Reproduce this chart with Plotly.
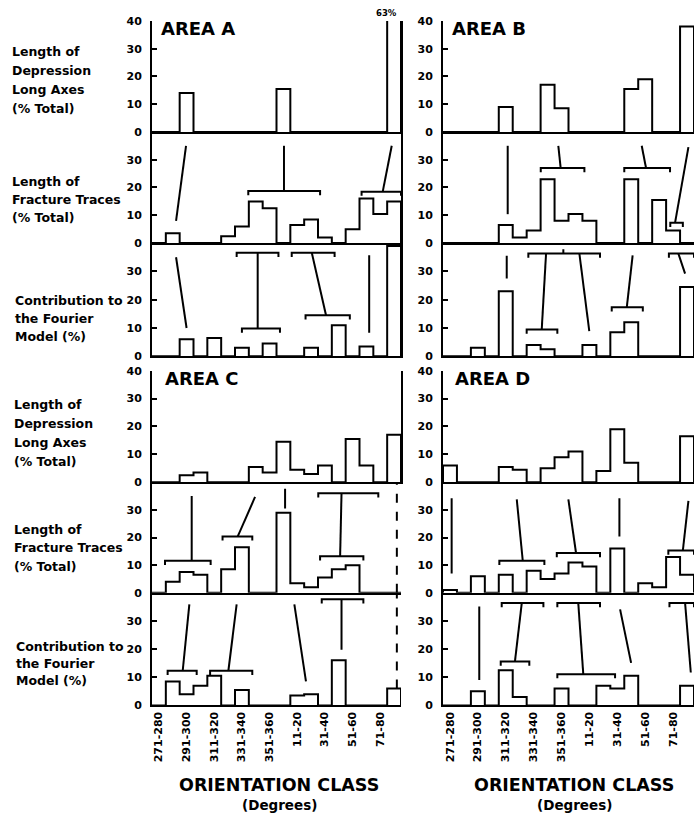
import plotly.graph_objects as go

# ---------------- data ----------------
classes = ["271-280", "281-290", "291-300", "301-310", "311-320", "321-330",
           "331-340", "341-350", "351-360", "1-10", "11-20", "21-30",
           "31-40", "41-50", "51-60", "61-70", "71-80", "81-90"]
tick_labels = classes[::2]
tick_pos = list(range(0, 18, 2))

A_dep = [0, 0, 14, 0, 0, 0, 0, 0, 0, 15.5, 0, 0, 0, 0, 0, 0, 0, 63]
A_frac = [0, 3.5, 0, 0, 0, 2.5, 6, 15, 12.5, 0, 6.5, 8.5, 2, 0, 5, 16, 10.5, 15]
A_four = [0, 0, 6, 0, 6.5, 0, 3, 0, 4.5, 0, 0, 3, 0, 11, 0, 3.5, 0, 39]

B_dep = [0, 0, 0, 0, 9, 0, 0, 17, 8.5, 0, 0, 0, 0, 15.5, 19, 0, 0, 38]
B_frac = [0, 0, 0, 0, 6.5, 2, 4.5, 23, 8, 10.5, 8, 0, 0, 23, 0, 15.5, 4.5, 0]
B_four = [0, 0, 3, 0, 23, 0, 4, 2.5, 0, 0, 4, 0, 8.5, 12, 0, 0, 0, 24.5]

C_dep = [0, 0, 2.5, 3.5, 0, 0, 0, 5.5, 3.5, 14.5, 4.5, 3, 6, 0, 15.5, 6, 0, 17]
C_frac = [0, 4, 7.5, 6.5, 0, 8.5, 16.5, 0, 0, 29, 3.5, 2, 5.5, 8.5, 10, 0, 0, 0]
C_four = [0, 8.5, 4, 7, 10.5, 0, 5.5, 0, 0, 0, 3.5, 4, 0, 16, 0, 0, 0, 6]

D_dep = [6, 0, 0, 0, 5.5, 4.5, 0, 5, 9, 11, 0, 4, 19, 7, 0, 0, 0, 16.5]
D_frac = [1, 0, 6, 0, 6.5, 0, 8, 5, 7, 11, 9.5, 0, 16, 0, 3.5, 2, 13, 6.5]
D_four = [0, 0, 5, 0, 12.5, 3, 0, 0, 6, 0, 0, 7, 6, 10.5, 0, 0, 0, 7]

# connector lines (x0, y0, x1, y1) and brackets (x0, x1, y) in class-index / percent units
A_frac_links = [(1.24, 8, 1.96, 35), (9.04, 18.7, 9.04, 35), (16.18, 18.5, 16.83, 35)]
A_frac_brackets = [(6.46, 11.65, 18.7), (14.65, 17.5, 18.5)]
A_four_links = [(1.24, 35, 2.0, 10), (7.14, 36.6, 7.14, 9.8), (11.05, 36.6, 12.08, 14.5),
                (15.2, 35.7, 15.2, 8.3)]
A_four_brackets = [(5.62, 8.64, 36.6), (6.0, 8.75, 9.8), (9.6, 12.7, 36.6), (10.6, 13.8, 14.5)]

B_frac_links = [(4.14, 35, 4.14, 10.4), (7.94, 27, 7.77, 35), (14.06, 27, 13.75, 35),
                (16.14, 7.3, 17.1, 34.5)]
B_frac_brackets = [(6.51, 9.64, 27), (12.5, 15.78, 27), (15.8, 16.7, 7.3)]
B_four_links = [(4.07, 35.5, 4.07, 27.5), (8.13, 36.3, 8.13, 37.8), (6.89, 36.3, 6.58, 9.5),
                (9.28, 36.3, 9.99, 8.9), (13.1, 35.7, 12.68, 17.3), (16.38, 36.3, 16.86, 29.2)]
B_four_brackets = [(5.62, 10.76, 36.3), (5.5, 7.7, 9.5), (11.6, 13.83, 17.3), (15.7, 17.5, 36.3)]

C_frac_links = [(2.37, 11.6, 2.37, 35), (5.7, 20.4, 6.95, 34.7), (9.12, 37.7, 9.12, 30.5),
                (13.2, 36, 13.1, 13.2)]
C_frac_brackets = [(0.44, 3.74, 11.6), (4.6, 6.75, 20.4), (11.52, 15.86, 36), (11.65, 14.78, 13.2)]
C_four_links = [(1.72, 12.3, 2.2, 35.9), (5.02, 12.3, 5.62, 35.9), (9.79, 35.9, 10.63, 8.5),
                (13.2, 37.7, 13.2, 19.8)]
C_four_brackets = [(0.63, 2.73, 12.3), (3.7, 6.75, 12.3), (11.77, 14.78, 37.7)]
C_dashed = {"frac": (17.2, 0, 40), "four": (17.2, 6, 40)}

D_frac_links = [(0.12, 34.2, 0.12, 7), (5.22, 11.6, 4.79, 33.8), (9.04, 14.4, 8.49, 33.8),
                (12.15, 34.2, 12.15, 20.4), (16.7, 15.3, 17.1, 33.3)]
D_frac_brackets = [(3.54, 6.77, 11.6), (7.66, 10.76, 14.4), (15.66, 17.5, 15.3)]
D_four_links = [(2.1, 35.1, 2.1, 9), (5.15, 36.4, 4.66, 15.6), (9.2, 36.4, 9.56, 11.1),
                (12.2, 34.1, 12.99, 15.1), (16.86, 36.4, 17.27, 11.7)]
D_four_brackets = [(3.71, 6.7, 36.4), (3.64, 5.69, 15.6), (7.7, 10.76, 36.4), (7.7, 11.84, 11.1),
                   (15.74, 17.5, 36.4)]

values = {
    "A": {"dep": A_dep, "frac": A_frac, "four": A_four},
    "B": {"dep": B_dep, "frac": B_frac, "four": B_four},
    "C": {"dep": C_dep, "frac": C_frac, "four": C_four},
    "D": {"dep": D_dep, "frac": D_frac, "four": D_four},
}
links = {
    "A": {"frac": (A_frac_links, A_frac_brackets), "four": (A_four_links, A_four_brackets)},
    "B": {"frac": (B_frac_links, B_frac_brackets), "four": (B_four_links, B_four_brackets)},
    "C": {"frac": (C_frac_links, C_frac_brackets), "four": (C_four_links, C_four_brackets)},
    "D": {"frac": (D_frac_links, D_frac_brackets), "four": (D_four_links, D_four_brackets)},
}

# ---------------- layout geometry ----------------
W, H = 696, 820
FONT = "DejaVu Sans"
Y_SHIFT, Y_SCALE = 6.0, 0.985   # empirical correction of the vertical placement

def fx(px):
    return px / W

def fy(py):
    return 1 - ((py - Y_SHIFT) / Y_SCALE) / H

col_px = {"A": (152, 401), "C": (152, 401), "B": (443, 694), "D": (443, 694)}
top_rows = [(21, 132), (132, 243.3), (243.3, 356.6)]
bot_rows = [(371, 482.7), (482.7, 593.3), (593.3, 706)]
row_px = {"A": top_rows, "B": top_rows, "C": bot_rows, "D": bot_rows}
kinds = ["dep", "frac", "four"]

fig = go.Figure()
layout = {}
n = 0
for area in ["A", "B", "C", "D"]:
    for k_i, kind in enumerate(kinds):
        n += 1
        xa, ya = f"x{n}", f"y{n}"
        x0p, x1p = col_px[area]
        t, b = row_px[area][k_i]
        bottom = (kind == "four" and area in ("C", "D"))
        layout[f"xaxis{n}"] = dict(
            domain=[fx(x0p), fx(x1p)], range=[-0.5, 17.5], anchor=ya,
            showline=True, linecolor="black", linewidth=2, showgrid=False,
            zeroline=False, ticks="", fixedrange=True,
            showticklabels=bottom, tickmode="array", tickvals=tick_pos,
            ticktext=tick_labels, tickangle=-90,
            tickfont=dict(family=FONT, size=11, color="black", weight="bold"),
        )
        layout[f"yaxis{n}"] = dict(
            domain=[fy(b), fy(t)], range=[0, 40], anchor=xa,
            showline=True, linecolor="black", linewidth=2, showgrid=False,
            zeroline=False, ticks="inside", ticklen=5, tickwidth=2, tickcolor="black",
            tickmode="array", tickvals=[0, 10, 20, 30, 40] if kind == "dep" else [0, 10, 20, 30],
            ticklabelstandoff=6, fixedrange=True,
            mirror=(area == "A" or (area == "C" and kind == "dep")),
            tickfont=dict(family=FONT, size=11, color="black", weight="bold"),
        )
        # histogram outline (step)
        vals = values[area][kind]
        xs = [-0.5] + [i - 0.5 for i in range(18)] + [17.5, 17.5]
        ys = [0] + list(vals) + [vals[-1], 0]
        fig.add_trace(go.Scatter(x=xs, y=ys, mode="lines", line=dict(color="black", width=2, shape="hv"),
                                 xaxis=xa, yaxis=ya, hoverinfo="skip", showlegend=False))
        # connectors
        if kind in links[area]:
            segs, brs = links[area][kind]
            lx, ly = [], []
            for (a0, b0, a1, b1) in segs:
                lx += [a0, a1, None]
                ly += [b0, b1, None]
            for (a0, a1, yy) in brs:
                lx += [a0, a0, a1, a1, None]
                ly += [yy - 1.5, yy, yy, yy - 1.5, None]
            fig.add_trace(go.Scatter(x=lx, y=ly, mode="lines", line=dict(color="black", width=2),
                                     xaxis=xa, yaxis=ya, hoverinfo="skip", showlegend=False))
        if area == "C" and kind in C_dashed:
            dx, dy0, dy1 = C_dashed[kind]
            fig.add_trace(go.Scatter(x=[dx, dx], y=[dy0, dy1], mode="lines",
                                     line=dict(color="black", width=2, dash="dash"),
                                     xaxis=xa, yaxis=ya, hoverinfo="skip", showlegend=False))

# ---------------- text ----------------
ann = []
def txt(s, xp, yp, size, xanchor="left", weight="bold"):
    ann.append(dict(text=s, x=fx(xp), y=fy(yp), xref="paper", yref="paper",
                    xanchor=xanchor, yanchor="middle", showarrow=False, borderpad=0,
                    font=dict(family=FONT, size=size, color="black", weight=weight)))

label_lines = {
    "dep": ["Length of", "Depression", "Long Axes", "(% Total)"],
    "frac": ["Length of", "Fracture Traces", "(% Total)"],
    "four": ["Contribution to", "the Fourier", "Model (%)"],
}
label_pos = {
    ("top", "dep"): (11, [51.7, 70.7, 89.3, 108.3]),
    ("top", "frac"): (11, [181.7, 200, 217.3]),
    ("top", "four"): (14, [301, 318.3, 336.7]),
    ("bot", "dep"): (13, [405, 424.3, 443.3, 461.7]),
    ("bot", "frac"): (13, [530, 548.3, 567.3]),
    ("bot", "four"): (15, [646.7, 664, 680.7]),
}
for (row, kind), (xp, yps) in label_pos.items():
    for line, yp in zip(label_lines[kind], yps):
        txt(line, xp, yp, 12.5)

txt("AREA A", 160, 28.4, 18)
txt("AREA B", 451, 28.4, 18)
txt("AREA C", 164, 378.8, 18)
txt("AREA D", 454, 378.8, 18)
txt("63%", 386, 13, 8.5, xanchor="center")

for cx in (279, 574):
    txt("ORIENTATION CLASS", cx, 786, 17.5, xanchor="center")
    txt("(Degrees)", cx, 806, 13.5, xanchor="center")

fig.update_layout(**layout)
fig.update_layout(
    width=W, height=H, margin=dict(l=0, r=0, t=0, b=0),
    paper_bgcolor="white", plot_bgcolor="white", showlegend=False,
    annotations=ann,
)
fig.write_html("out.html", config={"displayModeBar": False},
               post_script="document.body.style.margin='0';"
                           "document.documentElement.style.overflow='hidden';"
                           "document.body.style.overflow='hidden';")
